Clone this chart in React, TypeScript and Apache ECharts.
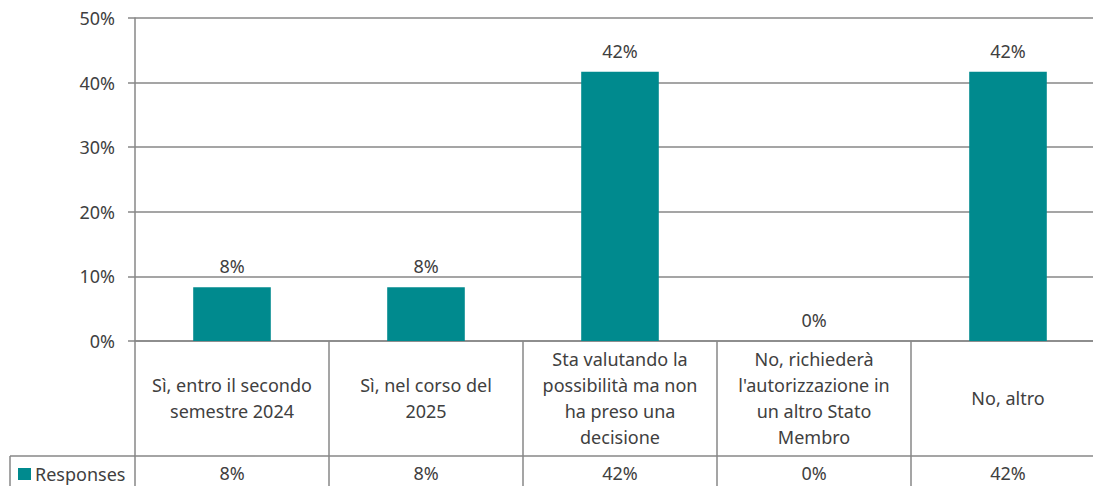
import React, { useEffect, useRef } from "react";
import * as echarts from "echarts";

const categories = [
  "Sì, entro il secondo\nsemestre 2024",
  "Sì, nel corso del\n2025",
  "Sta valutando la\npossibilità ma non\nha preso una\ndecisione",
  "No, richiederà\nl'autorizzazione in\nun altro Stato\nMembro",
  "No, altro",
];
const responses = [0.0833, 0.0833, 0.4167, 0, 0.4167];
const seriesName = "Responses";
const yTicks = { min: 0, max: 0.5, interval: 0.1 };

const pct = (v: number) => `${Math.round(v * 100)}%`;

const FONT = "Noto Sans";
const FS = 18;
const TEXT = "#404040";
const LINE = "#878787";
const BAR = "#008A8E";

export default function App() {
  const ref = useRef<HTMLDivElement>(null);
  useEffect(() => {
    if (!ref.current) return;
    const chart = echarts.init(ref.current, undefined, { renderer: "svg" });
    chart.setOption({
      animation: false,
      backgroundColor: "#ffffff",
      textStyle: { fontFamily: FONT, color: TEXT },
      grid: { left: 135, right: 0, top: 18, bottom: 145, containLabel: false },
      legend: {
        show: true,
        left: 13,
        top: 460,
        icon: "rect",
        itemWidth: 13,
        itemHeight: 12,
        itemGap: 5,
        textStyle: { fontFamily: FONT, fontSize: FS, color: TEXT, padding: [0, 0, 0, -1] },
        data: [seriesName],
      },
      xAxis: [
        {
          type: "category",
          data: categories,
          position: "bottom",
          axisLine: { show: true, lineStyle: { color: LINE, width: 1.5 } },
          axisTick: { show: true, length: 145, alignWithLabel: false, lineStyle: { color: LINE, width: 1.5 } },
          axisLabel: {
            interval: 0,
            margin: 57,
            verticalAlign: "middle",
            align: "center",
            fontFamily: FONT,
            fontSize: FS,
            lineHeight: 26,
            color: TEXT,
          },
          splitLine: { show: false },
        },
        {
          type: "category",
          data: categories,
          position: "bottom",
          offset: 115,
          axisLine: { show: true, lineStyle: { color: LINE, width: 1.5 } },
          axisTick: { show: false },
          axisLabel: {
            interval: 0,
            margin: 17,
            verticalAlign: "middle",
            fontFamily: FONT,
            fontSize: FS,
            color: TEXT,
            formatter: (_v: string, i: number) => pct(responses[i]),
          },
          splitLine: { show: false },
        },
      ],
      yAxis: {
        type: "value",
        min: yTicks.min,
        max: yTicks.max,
        interval: yTicks.interval,
        axisLine: { show: true, lineStyle: { color: LINE, width: 1.5 } },
        axisTick: { show: true, length: 7, lineStyle: { color: LINE, width: 1.5 } },
        axisLabel: {
          margin: 20,
          fontFamily: FONT,
          fontSize: FS,
          color: TEXT,
          formatter: (v: number) => pct(v),
        },
        splitLine: { show: true, lineStyle: { color: LINE, width: 1.5 } },
      },
      series: [
        {
          name: seriesName,
          type: "bar",
          xAxisIndex: 0,
          data: responses,
          barWidth: "40%",
          itemStyle: { color: BAR },
          label: {
            show: true,
            position: "top",
            distance: 12,
            fontFamily: FONT,
            fontSize: FS,
            color: TEXT,
            formatter: (p: any) => pct(p.value),
          },
        },
      ],
      graphic: [
        {
          type: "line",
          shape: { x1: 10, y1: 456, x2: 135, y2: 456 },
          style: { stroke: LINE, lineWidth: 1.5 },
        },
        {
          type: "line",
          shape: { x1: 10, y1: 456, x2: 10, y2: 486 },
          style: { stroke: LINE, lineWidth: 1.5 },
        },
      ],
    });
    return () => chart.dispose();
  }, []);
  return (
    <div style={{ position: "fixed", left: 0, top: 0, width: 1093, height: 486, overflow: "hidden" }}>
      <div ref={ref} style={{ position: "absolute", left: 0, top: 0, width: 1105, height: 486 }} />
    </div>
  );
}
